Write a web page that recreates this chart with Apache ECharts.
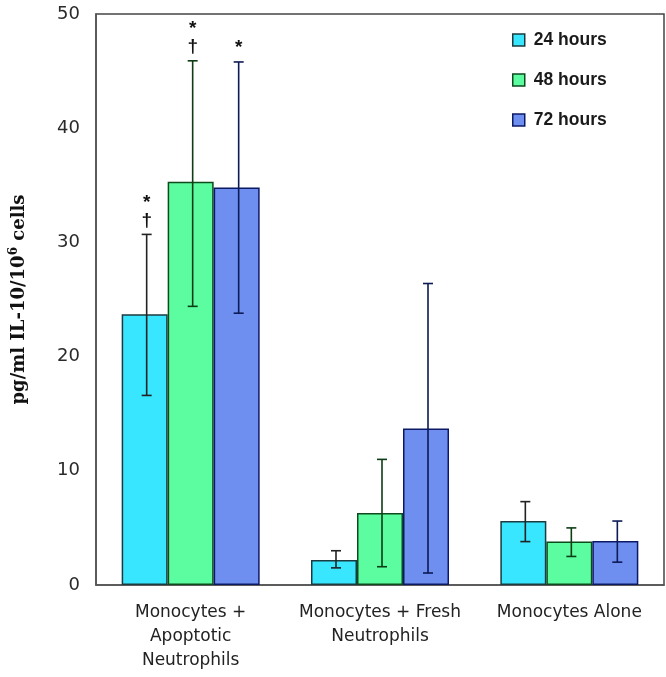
<!DOCTYPE html>
<html>
<head>
<meta charset="utf-8">
<script src="https://cdn.jsdelivr.net/npm/echarts@6/dist/echarts.min.js"></script>
<style>html,body{margin:0;padding:0;background:#fff}#c{width:666px;height:677px}</style>
</head>
<body>
<div id="c"></div>
<script>
var categories = ['Monocytes +\nApoptotic\nNeutrophils', 'Monocytes + Fresh\nNeutrophils', 'Monocytes Alone'];
var seriesNames = ['24 hours', '48 hours', '72 hours'];
var values24 = [23.7, 2.2, 5.6];
var values48 = [35.3, 6.3, 3.8];
var values72 = [34.8, 13.7, 3.85];
var errLow24 = [16.6, 1.5, 3.8];
var errHigh24 = [30.7, 3.0, 7.3];
var errLow48 = [24.4, 1.6, 2.5];
var errHigh48 = [45.9, 11.0, 5.0];
var errLow72 = [23.8, 1.05, 2.0];
var errHigh72 = [45.8, 26.4, 5.6];
var marks24 = ['*\n†', '', ''];
var marks48 = ['*\n†', '', ''];
var marks72 = ['*', '', ''];
var yTicks = [0, 10, 20, 30, 40, 50];

var fills = ['#38E6FF', '#5CFDA0', '#6F8FF0'];
var borders = ['#1b3b40', '#0d4a1c', '#0c1a66'];
var errColors = ['#222222', '#0d3d14', '#0c1a55'];
var BW = 46;

var vals = [values24, values48, values72];
var lows = [errLow24, errLow48, errLow72];
var highs = [errHigh24, errHigh48, errHigh72];
var marks = [marks24, marks48, marks72];

var series = [];
seriesNames.forEach(function (name, s) {
  series.push({
    name: name, type: 'bar', data: vals[s], barWidth: BW, barGap: '0%',
    itemStyle: { color: fills[s], borderColor: borders[s], borderWidth: 1.5 },
    z: 2
  });
});
seriesNames.forEach(function (name, s) {
  series.push({
    type: 'custom', name: name + ' err', z: 5,
    data: categories.map(function (c, i) { return [i, lows[s][i], highs[s][i]]; }),
    renderItem: function (params, api) {
      var i = api.value(0);
      var lo = api.coord([i, api.value(1)]);
      var hi = api.coord([i, api.value(2)]);
      var x = lo[0] + (s - 1) * BW + 2;
      var cap = 5;
      var st = { stroke: errColors[s], lineWidth: 1.6 };
      var children = [
        { type: 'line', shape: { x1: x, y1: lo[1], x2: x, y2: hi[1] }, style: st },
        { type: 'line', shape: { x1: x - cap, y1: lo[1], x2: x + cap, y2: lo[1] }, style: st },
        { type: 'line', shape: { x1: x - cap, y1: hi[1], x2: x + cap, y2: hi[1] }, style: st }
      ];
      var m = marks[s][i];
      if (m) {
        children.push({
          type: 'text',
          style: {
            text: m, x: x, y: hi[1] - 5, align: 'center', verticalAlign: 'bottom',
            font: 'bold 19px "Liberation Sans"', fill: '#111', lineHeight: 18
          }
        });
      }
      return { type: 'group', children: children };
    }
  });
});

var chart = echarts.init(document.getElementById('c'), null, { renderer: 'canvas' });
chart.setOption({
  animation: false,
  backgroundColor: '#fff',
  grid: { left: 96, right: 2, top: 14, bottom: 92, show: true, borderColor: '#444', borderWidth: 1.5, outerBoundsMode: 'none', containLabel: false },
  legend: {
    data: seriesNames, orient: 'vertical', left: 507, top: 26, itemGap: 22,
    itemWidth: 12, itemHeight: 12, icon: 'rect',
    textStyle: { fontFamily: 'Liberation Sans', fontWeight: 'bold', fontSize: 17.5, color: '#1a1a1a', padding: [0, 0, 0, 4] },
    itemStyle: { borderWidth: 1.5 }
  },
  xAxis: {
    type: 'category', data: categories,
    axisLine: { lineStyle: { color: '#555', width: 1.5 } },
    axisTick: { show: false },
    axisLabel: { fontFamily: 'DejaVu Sans', fontSize: 17, color: '#222', margin: 16, lineHeight: 24, interval: 0 }
  },
  yAxis: {
    type: 'value', min: 0, max: 50, interval: 10,
    name: '{a|pg/ml IL-10/10}{s|6}{a| cells}', nameLocation: 'middle', nameGap: 66, nameRotate: 90,
    nameTextStyle: { rich: {
      a: { fontFamily: 'DejaVu Serif', fontWeight: 'bold', fontSize: 18, color: '#111' },
      s: { fontFamily: 'DejaVu Serif', fontWeight: 'bold', fontSize: 12, color: '#111', verticalAlign: 'top', padding: [0, 0, 10, 0] }
    } },
    splitLine: { show: false },
    axisLine: { show: true, lineStyle: { color: '#555', width: 1.5 } },
    axisTick: { show: false },
    axisLabel: {
      fontFamily: 'DejaVu Sans', fontSize: 18, color: '#2a2a2a', margin: 16,
      formatter: function (v) { return yTicks.indexOf(v) >= 0 ? String(v) : ''; }
    }
  },
  series: series
});
</script>
</body>
</html>
